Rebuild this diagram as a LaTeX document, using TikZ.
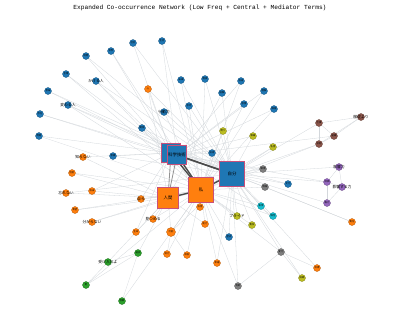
\documentclass[tikz,border=0pt]{standalone}
\usepackage{fontspec}
\usetikzlibrary{backgrounds}
\newfontfamily\jp{Noto Sans CJK JP}
\newfontfamily\mono{Liberation Mono}
\definecolor{nblue}{HTML}{1F77B4}
\definecolor{norange}{HTML}{FF7F0E}
\definecolor{ngreen}{HTML}{2CA02C}
\definecolor{ngray}{HTML}{7F7F7F}
\definecolor{npurple}{HTML}{9467BD}
\definecolor{nbrown}{HTML}{8C564B}
\definecolor{ncyan}{HTML}{17BECF}
\definecolor{nolive}{HTML}{BCBD22}
\definecolor{hubline}{HTML}{C8507A}
\definecolor{linkgray}{HTML}{D3D7DB}
\definecolor{heavy}{HTML}{4A4A4A}
\tikzset{
  term/.style={circle,inner sep=0pt,minimum size=7pt,draw=#1!70!black,line width=.3pt,fill=#1,
    font=\jp\fontsize{2.3}{3}\selectfont},
  hub/.style={rectangle,inner sep=0pt,minimum size=#1,draw=hubline,line width=.6pt,
    font=\jp\fontsize{4.4}{5}\selectfont},
  tag/.style={font=\jp\fontsize{3.8}{4}\selectfont},
  link/.style={draw=linkgray,line width=.3pt},
  strong/.style={draw=heavy,line width=1.4pt},
  medium/.style={draw=heavy!60,line width=.8pt}
}

\begin{document}
\begin{tikzpicture}[x=1pt,y=-1pt]
  \useasboundingbox (0,0) rectangle (400,333);
  \node[font=\mono\fontsize{6.2}{7}\selectfont] (title) at (200,8)
    {Expanded Co-occurrence Network (Low Freq + Central + Mediator Terms)};
  % hubs
  \node[hub=19pt,fill=nblue] (K1) at (171,153) {};
  \node[hub=19pt,fill=nblue] (K2) at (177,155) {科学技術};
  \node[hub=25pt,fill=nblue] (J) at (232,174) {自分};
  \node[hub=25pt,fill=norange] (W) at (201,190) {私};
  \node[hub=21pt,fill=norange] (H) at (168,198) {人間};
  % blue terms
  \node[term=nblue] (b1) at (133,43) {社会};
  \node[term=nblue] (b2) at (111,51) {世界};
  \node[term=nblue] (b3) at (86,56) {時間};
  \node[term=nblue] (b4) at (66,74) {言葉};
  \node[term=nblue,label={[tag]center:かける人}] (b5) at (96,81) {};
  \node[term=nblue] (b6) at (48,91) {意味};
  \node[term=nblue,label={[tag]center:変わる人}] (b7) at (68,105) {};
  \node[term=nblue] (b8) at (40,114) {存在};
  \node[term=nblue] (b9) at (39,136) {問題};
  \node[term=nblue] (b10) at (142,128) {関係};
  \node[term=nblue] (b11) at (162,41) {生活};
  \node[term=nblue] (b12) at (181,80) {未来};
  \node[term=nblue] (b13) at (205,79) {現実};
  \node[term=nblue] (b14) at (241,81) {自身};
  \node[term=nblue] (b15) at (264,91) {理解};
  \node[term=nblue] (b16) at (222,93) {経験};
  \node[term=nblue] (b17) at (244,104) {感情};
  \node[term=nblue] (b18) at (274,109) {価値};
  \node[term=nblue] (b19) at (189,106) {思考};
  \node[term=nblue,label={[tag]center:行動力}] (b20) at (164,112) {};
  \node[term=nblue] (b21) at (113,156) {意識};
  \node[term=nblue] (b22) at (212,153) {技術};
  \node[term=nblue] (b23) at (288,184) {文化};
  \node[term=nblue] (b24) at (229,237) {歴史};
  % orange terms
  \node[term=norange] (o1) at (148,89) {心};
  \node[term=norange,label={[tag]center:知らない}] (o2) at (83,157) {};
  \node[term=norange] (o3) at (72,173) {他者};
  \node[term=norange] (o4) at (92,191) {自由};
  \node[term=norange,label={[tag]center:忘れない}] (o5) at (66,193) {};
  \node[term=norange] (o6) at (75,210) {希望};
  \node[term=norange,label={[tag]center:分からない}] (o7) at (92,222) {};
  \node[term=norange,label={[tag]center:自ら}] (o8) at (141,199) {};
  \node[term=norange,label={[tag]center:見つめる}] (o9) at (153,219) {};
  \node[term=norange] (o10) at (136,232) {生命};
  \node[term=norange,minimum size=9pt] (o11) at (171,232) {可能};
  \node[term=norange] (o12) at (200,207) {自信};
  \node[term=norange] (o13) at (205,224) {能力};
  \node[term=norange] (o14) at (167,254) {努力};
  \node[term=norange] (o15) at (187,255) {成長};
  \node[term=norange] (o16) at (217,263) {幸福};
  \node[term=norange] (o17) at (352,222) {責任};
  \node[term=norange] (o18) at (317,268) {目標};
  % green terms
  \node[term=ngreen,label={[tag]center:受け入れよ}] (g1) at (108,262) {};
  \node[term=ngreen] (g2) at (138,253) {選択};
  \node[term=ngreen] (g3) at (86,285) {愛};
  \node[term=ngreen] (g4) at (122,301) {信頼};
  % gray terms
  \node[term=ngray] (y1) at (263,169) {環境};
  \node[term=ngray] (y2) at (265,187) {情報};
  \node[term=ngray] (y3) at (281,252) {変化};
  \node[term=ngray] (y4) at (238,286) {判断};
  % purple terms
  \node[term=npurple,label={[tag]center:影響力}] (p1) at (339,167) {};
  \node[term=npurple] (p2) at (327,182) {評価};
  \node[term=npurple,label={[tag]center:影響する力}] (p3) at (342,187) {};
  \node[term=npurple] (p4) at (327,203) {権力};
  % brown terms
  \node[term=nbrown] (r1) at (319,123) {仕事};
  \node[term=nbrown,label={[tag]center:服従より}] (r2) at (361,117) {};
  \node[term=nbrown] (r3) at (334,136) {組織};
  \node[term=nbrown] (r4) at (319,144) {役割};
  % cyan terms
  \node[term=ncyan] (c1) at (261,206) {表現};
  \node[term=ncyan] (c2) at (273,216) {個性};
  % olive terms
  \node[term=nolive] (v1) at (223,131) {誇り};
  \node[term=nolive] (v2) at (253,136) {尊厳};
  \node[term=nolive] (v3) at (273,147) {名誉};
  \node[term=nolive,label={[tag]center:プライド}] (v4) at (237,216) {};
  \node[term=nolive] (v5) at (252,225) {勇気};
  \node[term=nolive] (v6) at (302,278) {挑戦};
  \begin{scope}[on background layer]
    \foreach \a/\b in {b1/K1,b1/J,b2/K1,b2/W,b3/K1,b3/J,b4/K1,b4/W,b5/K1,b5/J,b5/W,b6/K1,b6/J,
        b7/K1,b7/W,b7/J,b8/J,b8/K1,b9/K1,b9/W,b10/K1,b10/J,b11/W,b11/K2,b12/J,b12/W,b13/J,b13/W,
        b14/K2,b14/W,b15/K2,b15/W,b16/J,b16/H,b17/K2,b17/W,b18/K2,b18/W,b19/J,b19/W,b20/J,b20/W,
        b21/K1,b21/J,b22/K2,b22/W,b23/K2,b23/J,b24/J,b24/W,o1/K1,o1/J,o1/H,
        o2/H,o2/K1,o3/H,o3/W,o4/K1,o4/H,o5/H,o5/J,o6/H,o6/W,o7/H,o7/W,o8/K1,o8/W,o9/H,o9/W,
        o10/H,o10/K1,o11/H,o11/W,o11/J,o12/W,o12/K2,o13/W,o13/H,o14/W,o14/o11,o15/W,o15/o11,
        o16/W,o16/J,o17/J,o17/y2,o18/y3,o18/J,
        g1/g2,g1/g3,g2/g3,g2/g4,g1/H,g2/H,g4/W,g3/W,
        y1/K2,y1/W,y1/J,y2/K2,y2/W,y3/J,y3/W,y3/y4,y4/W,y4/J,
        p1/p2,p1/p3,p2/p3,p2/p4,p3/p4,p1/J,p2/J,p2/K2,p4/J,
        r1/r3,r1/r4,r3/r4,r1/r2,r2/r4,r3/r2,r1/J,r4/J,r4/W,r3/K2,
        c1/J,c1/W,c2/J,c2/W,c2/K2,
        v1/J,v1/W,v2/J,v2/K2,v3/J,v3/W,v4/J,v4/W,v5/J,v5/W,v6/y3,v6/J}
      \draw[link] (\a) -- (\b);
    \draw[strong] (K1) -- (J);
    \draw[strong] (K2) -- (J);
    \draw[strong] (K1) -- (W);
    \draw[strong] (K2) -- (W);
    \draw[strong] (H) -- (W);
    \draw[strong] (W) -- (J);
    \draw[medium] (K1) -- (H);
    \draw[medium] (K2) -- (H);
  \end{scope}
\end{tikzpicture}
\end{document}
